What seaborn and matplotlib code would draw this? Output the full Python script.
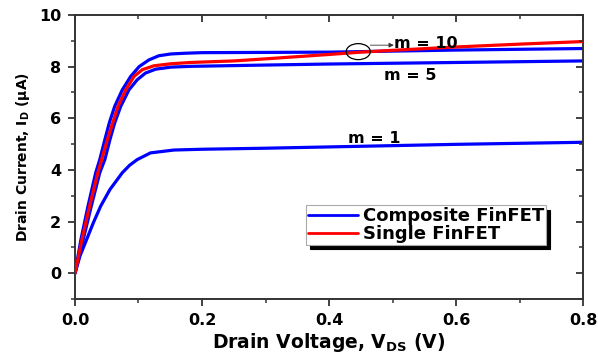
import numpy as np
import pandas as pd
import matplotlib
matplotlib.use("Agg")
import matplotlib.pyplot as plt
from matplotlib.patches import Ellipse
from matplotlib.lines import Line2D
from matplotlib.ticker import MultipleLocator, FormatStrFormatter
import seaborn as sns

# Output characteristics (drain voltage in V, drain current in uA)
v_m10 = [0.0, 0.0094, 0.0205, 0.0326, 0.039, 0.047, 0.054, 0.0625, 0.0745, 0.0877,
         0.101, 0.1165, 0.132, 0.151, 0.176, 0.2, 0.3, 0.4, 0.5, 0.6, 0.7, 0.8]
i_m10 = [0.0, 1.31, 2.60, 3.89, 4.40, 5.17, 5.82, 6.46, 7.10, 7.62,
         8.00, 8.26, 8.42, 8.49, 8.52, 8.54, 8.55, 8.56, 8.60, 8.64, 8.67, 8.70]

v_m5 = [0.0, 0.013, 0.0257, 0.039, 0.047, 0.055, 0.0625, 0.072, 0.085, 0.098,
        0.111, 0.127, 0.151, 0.182, 0.3, 0.4, 0.5, 0.6, 0.7, 0.8]
i_m5 = [0.0, 1.31, 2.60, 3.89, 4.40, 5.17, 5.82, 6.46, 7.10, 7.49,
        7.75, 7.90, 7.98, 8.01, 8.06, 8.10, 8.13, 8.16, 8.19, 8.22]

v_m1 = [0.0, 0.0079, 0.0184, 0.029, 0.0405, 0.055, 0.0745, 0.086, 0.098, 0.119, 0.156,
        0.2, 0.3, 0.4, 0.5, 0.6, 0.7, 0.8]
i_m1 = [0.0, 0.67, 1.31, 1.96, 2.60, 3.24, 3.89, 4.18, 4.40, 4.66, 4.77,
        4.80, 4.84, 4.89, 4.94, 4.99, 5.03, 5.07]

v_single = [0.0, 0.011, 0.023, 0.036, 0.051, 0.0677, 0.080, 0.093, 0.106, 0.124,
            0.151, 0.182, 0.25, 0.3, 0.4, 0.45, 0.5, 0.6, 0.7, 0.8]
i_single = [0.0, 1.31, 2.60, 3.89, 5.17, 6.46, 7.10, 7.62, 7.88, 8.03,
            8.11, 8.16, 8.22, 8.30, 8.47, 8.56, 8.63, 8.76, 8.87, 8.97]

devices = ["Composite FinFET", "Single FinFET"]
colors = {"Composite FinFET": "#0000ff", "Single FinFET": "#ff0000"}
curve_labels = ["m = 10", "m = 5", "m = 1"]

frames = []
for v, i, dev, m in [(v_m10, i_m10, devices[0], 10), (v_m5, i_m5, devices[0], 5),
                     (v_m1, i_m1, devices[0], 1), (v_single, i_single, devices[1], 0)]:
    frames.append(pd.DataFrame({"V": v, "I": i, "device": dev, "m": m}))
df = pd.concat(frames, ignore_index=True)

sns.set_style("white")
plt.rcParams["font.family"] = ["DejaVu Sans"]
plt.rcParams["font.weight"] = "bold"
plt.rcParams["mathtext.fontset"] = "dejavusans"
for key in ("text.color", "axes.labelcolor", "xtick.labelcolor", "ytick.labelcolor"):
    plt.rcParams[key] = "black"

fig = plt.figure(figsize=(5.98, 3.56), dpi=100)
ax = fig.add_axes([0.1254, 0.160, 0.8496, 0.798])

sns.lineplot(data=df, x="V", y="I", hue="device", units="m", estimator=None,
             palette=colors, hue_order=devices, linewidth=2.3, legend=False,
             sort=False, ax=ax)
for ln in ax.get_lines():
    ln.set_solid_joinstyle("round")
    ln.set_solid_capstyle("round")
    # single-device curve drawn above the composite ones
    if matplotlib.colors.to_hex(ln.get_color()) == "#ff0000":
        ln.set_zorder(3)

ax.set_xlim(0.0, 0.8)
ax.set_ylim(-1, 10)
ax.xaxis.set_major_locator(MultipleLocator(0.2))
ax.xaxis.set_minor_locator(MultipleLocator(0.1))
ax.yaxis.set_major_locator(MultipleLocator(2))
ax.yaxis.set_minor_locator(MultipleLocator(1))
ax.xaxis.set_major_formatter(FormatStrFormatter("%.1f"))
ax.tick_params(axis="both", which="major", direction="out", length=5, width=1.3,
               labelsize=11.5, pad=5, color="#333333", labelcolor="black")
ax.tick_params(axis="both", which="minor", direction="out", length=3, width=1.1,
               color="#333333")
for lab in ax.get_xticklabels() + ax.get_yticklabels():
    lab.set_fontweight("bold")
for sp in ax.spines.values():
    sp.set_linewidth(1.4)
    sp.set_color("#333333")

# mirrored inward ticks on top and right
axt = ax.twiny()
axt.set_xlim(ax.get_xlim())
axt.xaxis.set_major_locator(MultipleLocator(0.2))
axt.xaxis.set_minor_locator(MultipleLocator(0.1))
axt.tick_params(axis="x", which="major", direction="in", length=5, width=1.3,
                labeltop=False, color="#333333")
axt.tick_params(axis="x", which="minor", direction="in", length=3, width=1.1,
                color="#333333")
axr = ax.twinx()
axr.set_ylim(ax.get_ylim())
axr.yaxis.set_major_locator(MultipleLocator(2))
axr.yaxis.set_minor_locator(MultipleLocator(1))
axr.tick_params(axis="y", which="major", direction="in", length=5, width=1.3,
                labelright=False, color="#333333")
axr.tick_params(axis="y", which="minor", direction="in", length=3, width=1.1,
                color="#333333")
for a in (axt, axr):
    for sp in a.spines.values():
        sp.set_visible(False)

ax.set_xlabel(r"Drain Voltage, V$_{\mathbf{DS}}$ (V)", fontsize=13.5,
              fontweight="bold", labelpad=2, color="black")
ax.set_ylabel(r"Drain Current, I$_{\mathbf{D}}$ $\mathrm{(\mu A)}$", fontsize=10,
              fontweight="bold", labelpad=5, color="black")

# curve annotations
ax.add_patch(Ellipse((0.446, 8.58), 0.038, 0.62, fill=False, edgecolor="black",
                     linewidth=0.9, zorder=4))
ax.annotate("", xy=(0.502, 8.83), xytext=(0.465, 8.83),
            arrowprops=dict(arrowstyle="-|>", color="#333333", lw=0.6,
                            mutation_scale=7, shrinkA=0, shrinkB=0))
ax.text(0.503, 8.90, curve_labels[0], fontsize=11.5, fontweight="bold",
        ha="left", va="center", color="black")
ax.text(0.5276, 7.66, curve_labels[1], fontsize=11.5, fontweight="bold",
        ha="center", va="center", color="black")
ax.text(0.4709, 5.21, curve_labels[2], fontsize=11.5, fontweight="bold",
        ha="center", va="center", color="black")

handles = [Line2D([], [], color=colors[d], linewidth=2.0) for d in devices]
leg = ax.legend(handles, devices, loc="lower left", bbox_to_anchor=(0.4548, 0.19),
                prop={"weight": "bold", "size": 13}, frameon=True, fancybox=False,
                handlelength=2.75, handletextpad=0.3, borderpad=0.1, labelspacing=0.0,
                borderaxespad=0,
                shadow={"color": "black", "alpha": 1, "ox": 3, "oy": -3})
leg.get_frame().set_edgecolor("#aaaaaa")
leg.get_frame().set_linewidth(0.8)
leg.set_zorder(5)
for t in leg.get_texts():
    t.set_color("black")

fig.savefig("out.png", dpi=100)
